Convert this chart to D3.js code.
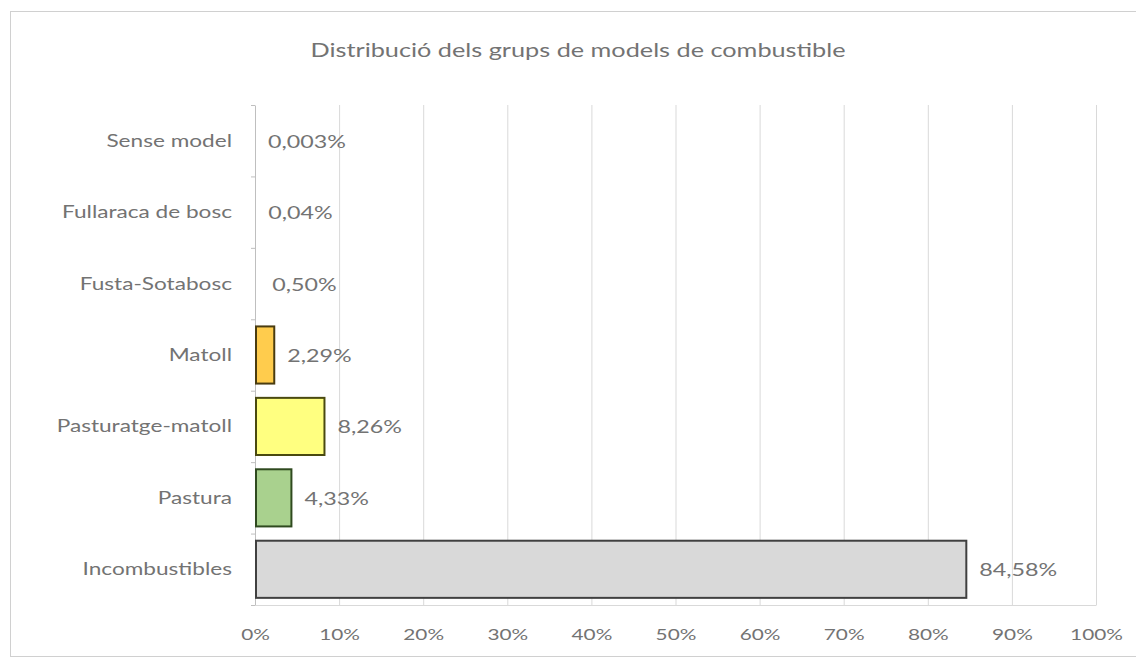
<!DOCTYPE html>
<html><head><meta charset="utf-8">
<script src="https://cdn.jsdelivr.net/npm/d3@7"></script>
<style>body{margin:0;background:#fff}svg{display:block}text{font-family:Lato,"Open Sans",sans-serif}</style>
</head><body>
<svg id="c" width="1136" height="663"></svg>
<script>
const categories = ["Sense model","Fullaraca de bosc","Fusta-Sotabosc","Matoll","Pasturatge-matoll","Pastura","Incombustibles"];
const values = [0.003, 0.04, 0.50, 2.29, 8.26, 4.33, 84.58];
const valueLabels = ["0,003%","0,04%","0,50%","2,29%","8,26%","4,33%","84,58%"];
const fills = ["#ffffff","#ffffff","#ffffff","#ffcc4d","#ffff80","#a9d18e","#d9d9d9"];
const strokes = ["#404040","#404040","#404040","#4a3c10","#4a4a10","#2f4a1f","#404040"];
const xTicks = [0,10,20,30,40,50,60,70,80,90,100];
const title = "Distribució dels grups de models de combustible";

const SX = 1.33;
const FONT = "Lato,'Open Sans',sans-serif";
const TXT = "#737373";
const svg = d3.select("#c");
svg.append("rect").attr("x",10.5).attr("y",11.5).attr("width",1140).attr("height",645)
  .attr("fill","#fff").attr("stroke","#d0d0d0");

const m = {l:255, r:1096, t:105, b:605};
const x = d3.scaleLinear().domain([0,100]).range([m.l,m.r]);
const y = d3.scaleBand().domain(categories).range([m.t,m.b]).paddingInner(0.2).paddingOuter(0.1);

svg.append("text").attr("transform",`translate(578,57) scale(${SX},1)`).attr("text-anchor","middle")
  .attr("font-size",19).attr("fill",TXT).text(title);

// gridlines
svg.append("g").selectAll("line").data(xTicks.slice(1)).join("line")
  .attr("x1",d=>x(d)+0.5).attr("x2",d=>x(d)+0.5).attr("y1",m.t).attr("y2",m.b)
  .attr("stroke","#d9d9d9");

// x axis
const xa = svg.append("g").attr("transform",`translate(0,${m.b})`)
  .call(d3.axisBottom(x).tickValues(xTicks).tickFormat(d=>d+"%").tickSize(0).tickPadding(24));
xa.select(".domain").attr("stroke","#d9d9d9");
xa.selectAll("text").attr("font-size",16).attr("fill",TXT).style("font-family",FONT)
  .attr("transform",`scale(1.3,1)`);

// y axis
const step = (m.b-m.t)/categories.length;
const ya = svg.append("g").attr("transform",`translate(${m.l},0)`)
  .call(d3.axisLeft(y).tickSize(0).tickPadding(23));
ya.select(".domain").attr("stroke","#bfbfbf");
ya.selectAll("text").attr("font-size",17).attr("fill",TXT).style("font-family",FONT)
  .attr("x",-23/SX).attr("dy",null).attr("y",6).attr("transform",`scale(${SX},1)`);
svg.append("g").selectAll("line").data(d3.range(categories.length+1)).join("line")
  .attr("x1",m.l-4).attr("x2",m.l).attr("y1",i=>m.t+i*step+0.5).attr("y2",i=>m.t+i*step+0.5)
  .attr("stroke","#bfbfbf");

// bars
svg.append("g").selectAll("rect").data(categories).join("rect")
  .attr("x",x(0)+1).attr("y",d=>y(d))
  .attr("width",(d,i)=>Math.max(0,x(values[i])-x(0)-1)).attr("height",y.bandwidth())
  .attr("fill",(d,i)=>fills[i]).attr("stroke",(d,i)=>strokes[i]).attr("stroke-width",2)
  .attr("display",(d,i)=>values[i]<1?"none":null);

// value labels
svg.append("g").selectAll("text").data(categories).join("text")
  .attr("transform",(d,i)=>`translate(${x(values[i])+13},${y(d)+y.bandwidth()/2+7}) scale(${SX},1)`)
  .attr("font-size",17.5).attr("fill",TXT).text((d,i)=>valueLabels[i]);
</script>
</body></html>
